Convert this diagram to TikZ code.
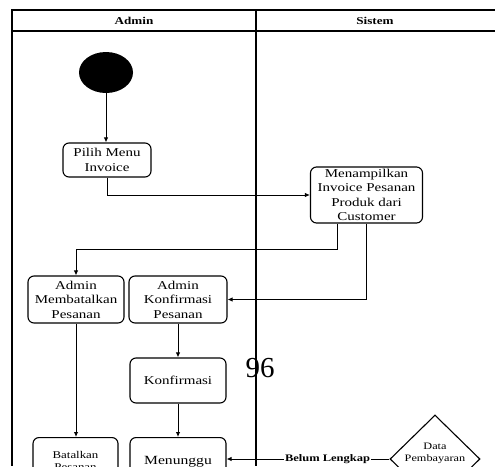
\documentclass[tikz,border=0pt]{standalone}
\usepackage{fontspec}
\setmainfont[FakeStretch=1.25]{Liberation Serif}
\newfontfamily\pagenumfont{Liberation Serif}
\usetikzlibrary{arrows.meta,shapes.geometric}
\begin{document}
\begin{tikzpicture}[x=1pt,y=-1pt,
  lane/.style={line width=1.1pt},
  act/.style={draw,rounded corners=6pt,line width=1.1pt,align=center,
    font=\fontsize{12}{14.5}\selectfont,inner sep=1pt},
  flow/.style={line width=0.9pt,-{Latex[length=5pt,width=4.5pt]}},
  head/.style={font=\bfseries\fontsize{10.5}{12}\selectfont}]
\useasboundingbox (0,0) rectangle (495,466);

% swimlane frame
\draw[lane] (495,10) -- (12,10) -- (12,466);
\draw[lane] (12,31) -- (495,31);
\draw[lane] (256,10) -- (256,466);
\node[head] (hadmin) at (134,21) {Admin};
\node[head] (hsistem) at (375,21) {Sistem};

% activities
\node[fill=black,ellipse,minimum width=54,minimum height=41,inner sep=0] (st) at (106,72.5) {};
\node[act,minimum width=88,minimum height=34] (pilih) at (107,160) {Pilih Menu\\Invoice};
\node[act,minimum width=112,minimum height=56,inner sep=0.5pt] (tampil) at (366.5,195) {Menampilkan\\Invoice Pesanan\\Produk dari\\Customer};
\node[act,minimum width=96,minimum height=47] (batal) at (76,299.5) {Admin\\Membatalkan\\Pesanan};
\node[act,minimum width=98,minimum height=47] (konf) at (178,299.5) {Admin\\Konfirmasi\\Pesanan};
\node[act,minimum width=96,minimum height=45] (konfirm) at (178,380.5) {Konfirmasi};
\node[act,anchor=north,minimum width=96,font=\fontsize{12.5}{15}\selectfont,
  inner sep=2pt,text height=25pt,text depth=28pt] (tunggu) at (178,437) {Menunggu};
\node[act,anchor=north,minimum width=85,font=\fontsize{10.3}{12}\selectfont,
  inner sep=2pt,text height=31pt,text depth=18pt] (tbatal) at (75.5,437) {Batalkan\\Pesanan};

% decision
\node[draw,diamond,line width=1.1pt,minimum width=90,minimum height=88,inner sep=0] (dec) at (435,459) {};
\node[align=center,font=\fontsize{9.8}{12}\selectfont,inner sep=0] (declbl) at (435,453) {Data\\Pembayaran};

% page number
\node[font=\pagenumfont\fontsize{29}{29}\selectfont,inner sep=0] (pg) at (260,368) {96};

% flows
\coordinate (k1) at (337,249);
\draw[flow] (st.south) -- (st.south |- pilih.north);
\draw[flow] (pilih.south) |- (tampil.west);
\draw[flow] (tampil.south -| k1) -- (k1) -| (batal.north);
\draw[flow] (tampil.south) |- (konf.east);
\draw[flow] (konf.south) -- (konfirm.north);
\draw[flow] (konfirm.south) -- (tunggu.north);
\draw[flow] (batal.south) -- (batal.south |- tbatal.north);
\draw[flow] (dec.west) -- (dec.west -| tunggu.east)
  node[pos=0.38,fill=white,inner sep=1pt,font=\bfseries\fontsize{10}{12}\selectfont] (blk) {Belum Lengkap};
\end{tikzpicture}
\end{document}
